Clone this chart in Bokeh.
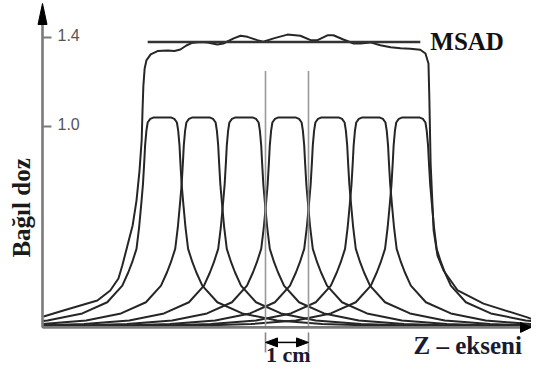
import numpy as np
from bokeh.plotting import figure
from bokeh.models import Range1d
from bokeh.core.properties import value
from bokeh.embed import file_html
from bokeh.resources import INLINE

# ---------------- data ----------------
# single-scan dose profile, one half (distance from scan centre in cm, relative dose)
profile_dz = [0, 0.21, 0.28, 0.34, 0.37, 0.40, 0.42, 0.45, 0.49, 0.54, 0.60,
              0.70, 0.79, 0.93, 1.28, 1.86, 2.67, 3.72, 5.81, 9.0]
profile_dose = [1.04, 1.04, 1.034, 1.018, 0.98, 0.915, 0.84, 0.74, 0.65, 0.545, 0.45,
                0.39, 0.345, 0.285, 0.21, 0.16, 0.128, 0.112, 0.10, 0.099]
# centres of the seven scans (cm)
scan_centers = [-2.9, -2.0, -1.0, 0.0, 1.0, 1.95, 2.88]
# multiple-scan (summed) dose profile
sum_z = [-5.66, -5.20, -4.41, -4.11, -3.92, -3.83, -3.71, -3.59, -3.50, -3.43, -3.38,
         -3.36, -3.34, -3.31, -3.27, -3.17, -3.01, -2.78, -2.62, -2.48, -2.34, -2.22,
         -2.01, -1.85, -1.62, -1.48, -1.24, -1.08, -0.92, -0.69, -0.55, -0.31, 0.01,
         0.31, 0.55, 0.71, 0.94, 1.08, 1.31, 1.55, 1.71, 1.94, 2.17, 2.41, 2.64, 2.87,
         3.10, 3.22, 3.29, 3.31, 3.34, 3.41, 3.50, 3.64, 3.97, 4.57, 5.59, 5.78]
sum_dose = [0.146, 0.173, 0.218, 0.263, 0.317, 0.375, 0.465, 0.555, 0.667, 0.802, 0.937,
            1.072, 1.184, 1.261, 1.297, 1.324, 1.339, 1.342, 1.339, 1.346, 1.364, 1.375,
            1.380, 1.378, 1.369, 1.373, 1.396, 1.408, 1.403, 1.388, 1.381, 1.396, 1.413,
            1.408, 1.388, 1.388, 1.410, 1.410, 1.391, 1.373, 1.373, 1.378, 1.365, 1.356,
            1.352, 1.349, 1.345, 1.328, 1.283, 1.130, 0.834, 0.533, 0.420, 0.353, 0.263,
            0.204, 0.142, 0.128]
msad_value = 1.38
msad_extent = [-3.24, 3.10]
marker_z = [-0.5, 0.5]          # the 1 cm interval
y_ticks = [1.0, 1.4]
y_tick_labels = ["1.0", "1.4"]

# ---------------- layout ----------------
W, H = 531, 369
PX_X = 43.0      # px per cm
PX_Y = 222.5     # px per dose unit
X0 = -286.5 / PX_X
Y1 = 1.0 + 126 / PX_Y
X1 = X0 + W / PX_X
Y0 = Y1 - H / PX_Y
Z_AXIS = -5.686   # where the vertical axis sits
D_AXIS = 0.097    # where the horizontal axis sits
Z_END = 5.78

p = figure(width=W, height=H, output_backend="svg", toolbar_location=None,
           x_range=Range1d(X0, X1), y_range=Range1d(Y0, Y1), min_border=0)
p.axis.visible = False
p.grid.visible = False
p.outline_line_color = None
p.background_fill_color = "white"

CURVE = "#262626"
SERIF = value("Liberation Serif")

# single-scan profiles
dz = np.array(profile_dz)
dd = np.array(profile_dose)
full_dz = np.concatenate([-dz[::-1], dz[1:]])
full_dd = np.concatenate([dd[::-1], dd[1:]])
for c in scan_centers:
    z = c + full_dz
    m = (z > Z_AXIS) & (z < Z_END)
    zz = np.concatenate([[Z_AXIS], z[m], [Z_END]])
    yy = np.concatenate([[np.interp(Z_AXIS, z, full_dd)], full_dd[m],
                         [np.interp(Z_END, z, full_dd)]])
    p.line(zz, yy, line_color=CURVE, line_width=2.0)

# summed profile
p.line(sum_z, sum_dose, line_color=CURVE, line_width=2.0)

# MSAD level
p.line(msad_extent, [msad_value, msad_value], line_color="#333333", line_width=2.6)
p.text(x=[msad_extent[1] + 10 / PX_X], y=[msad_value], text=["MSAD"],
       text_font=SERIF, text_font_style="bold", text_font_size="25px",
       text_color="#111111", text_align="left", text_baseline="alphabetic")

# 1 cm marker lines
for zm in marker_z:
    p.line([zm, zm], [D_AXIS, msad_value - 29 / PX_Y], line_color="#9a9a9a", line_width=1.6)
    p.line([zm, zm], [D_AXIS - 5 / PX_Y, D_AXIS - 25 / PX_Y], line_color="#8a8a8a", line_width=1.6)

ya = D_AXIS - 15 / PX_Y
hl, hw = 12 / PX_X, 4.5 / PX_Y
p.line([marker_z[0] + hl, marker_z[1] - hl], [ya, ya], line_color="black", line_width=1.5)
p.patch([marker_z[0], marker_z[0] + hl, marker_z[0] + hl], [ya, ya + hw, ya - hw],
        fill_color="black", line_color="black")
p.patch([marker_z[1], marker_z[1] - hl, marker_z[1] - hl], [ya, ya + hw, ya - hw],
        fill_color="black", line_color="black")
p.text(x=[sum(marker_z) / 2 + 0.03], y=[D_AXIS - 27 / PX_Y], text=["1 cm"],
       text_font=SERIF, text_font_style="bold", text_font_size="22px",
       text_color="#1a1a30", text_align="center", text_baseline="alphabetic")

# axes
AX = "#7a7a7a"
p.line([Z_AXIS, Z_AXIS], [D_AXIS, Y1 - 14 / PX_Y], line_color=AX, line_width=2.6)
p.patch([Z_AXIS, Z_AXIS - 4.5 / PX_X, Z_AXIS + 4.5 / PX_X],
        [Y1 - 3 / PX_Y, Y1 - 24 / PX_Y, Y1 - 24 / PX_Y], fill_color="black", line_color="black")
p.line([Z_AXIS, X1 - 8 / PX_X], [D_AXIS, D_AXIS], line_color=AX, line_width=2.6)
p.patch([X1 - 0.5 / PX_X, X1 - 11 / PX_X, X1 - 11 / PX_X],
        [D_AXIS, D_AXIS + 5 / PX_Y, D_AXIS - 5 / PX_Y], fill_color="black", line_color="black")

for t in y_ticks:
    p.line([Z_AXIS, Z_AXIS + 9 / PX_X], [t, t], line_color=AX, line_width=2)
p.text(x=[Z_AXIS + 15 / PX_X] * len(y_ticks), y=[t + 2.5 / PX_Y for t in y_ticks],
       text=y_tick_labels,
       text_font=value("Liberation Sans"), text_font_size="16px", text_color="#555555",
       text_align="left", text_baseline="middle")

# axis titles
p.text(x=[2.942], y=[D_AXIS - 18 / PX_Y], text=["Z – ekseni"],
       text_font=SERIF, text_font_style="bold", text_font_size="25px",
       text_color="#1a1a30", text_align="left", text_baseline="alphabetic")
p.text(x=[Z_AXIS - 21 / PX_X], y=[0.634], text=["Bağıl doz"], angle=np.pi / 2,
       text_font=SERIF, text_font_style="bold", text_font_size="25px",
       text_color="#1a1a1a", text_align="center", text_baseline="alphabetic")

open("out.html", "w").write(file_html(p, INLINE))
